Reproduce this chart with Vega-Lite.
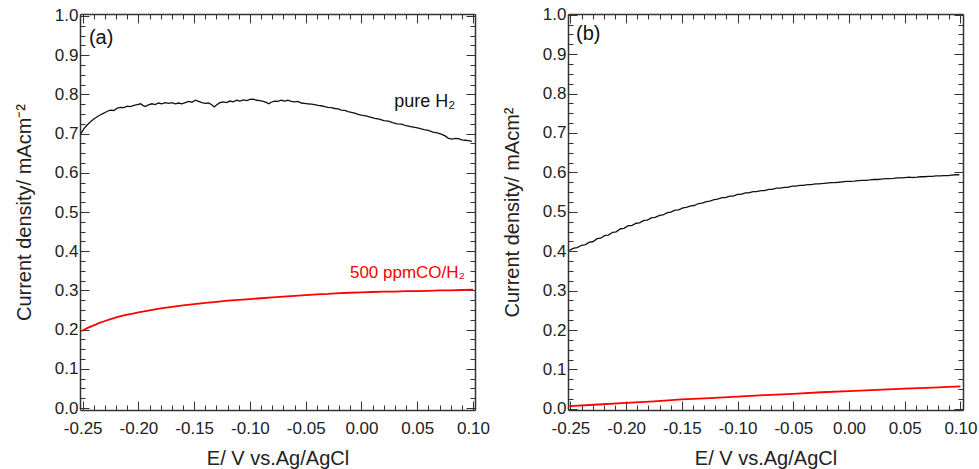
{
"$schema":"https://vega.github.io/schema/vega-lite/v6.json",
"background":"white",
"padding":{"left":14,"top":5,"right":10,"bottom":5},
"spacing":12,
"datasets":{
"ah":[{"E":-0.2515,"j":0.700},{"E":-0.249,"j":0.712},{"E":-0.246,"j":0.722},{"E":-0.243,"j":0.730},{"E":-0.24,"j":0.737},{"E":-0.237,"j":0.743},{"E":-0.234,"j":0.748},{"E":-0.231,"j":0.752},{"E":-0.228,"j":0.757},{"E":-0.225,"j":0.760},{"E":-0.222,"j":0.759},{"E":-0.219,"j":0.765},{"E":-0.216,"j":0.767},{"E":-0.213,"j":0.766},{"E":-0.21,"j":0.770},{"E":-0.207,"j":0.769},{"E":-0.204,"j":0.772},{"E":-0.201,"j":0.774},{"E":-0.198,"j":0.776},{"E":-0.196,"j":0.772},{"E":-0.194,"j":0.769},{"E":-0.191,"j":0.773},{"E":-0.188,"j":0.776},{"E":-0.185,"j":0.774},{"E":-0.182,"j":0.778},{"E":-0.179,"j":0.776},{"E":-0.176,"j":0.779},{"E":-0.173,"j":0.777},{"E":-0.17,"j":0.779},{"E":-0.167,"j":0.776},{"E":-0.164,"j":0.778},{"E":-0.161,"j":0.776},{"E":-0.158,"j":0.779},{"E":-0.155,"j":0.782},{"E":-0.152,"j":0.780},{"E":-0.149,"j":0.785},{"E":-0.146,"j":0.782},{"E":-0.143,"j":0.779},{"E":-0.14,"j":0.777},{"E":-0.137,"j":0.778},{"E":-0.134,"j":0.773},{"E":-0.132,"j":0.768},{"E":-0.13,"j":0.773},{"E":-0.127,"j":0.779},{"E":-0.124,"j":0.781},{"E":-0.121,"j":0.779},{"E":-0.118,"j":0.783},{"E":-0.115,"j":0.781},{"E":-0.112,"j":0.785},{"E":-0.109,"j":0.783},{"E":-0.106,"j":0.786},{"E":-0.103,"j":0.784},{"E":-0.1,"j":0.787},{"E":-0.097,"j":0.788},{"E":-0.094,"j":0.785},{"E":-0.091,"j":0.784},{"E":-0.088,"j":0.782},{"E":-0.085,"j":0.779},{"E":-0.083,"j":0.776},{"E":-0.081,"j":0.780},{"E":-0.078,"j":0.783},{"E":-0.075,"j":0.782},{"E":-0.072,"j":0.785},{"E":-0.069,"j":0.783},{"E":-0.066,"j":0.785},{"E":-0.063,"j":0.782},{"E":-0.06,"j":0.781},{"E":-0.057,"j":0.782},{"E":-0.054,"j":0.778},{"E":-0.051,"j":0.777},{"E":-0.048,"j":0.776},{"E":-0.045,"j":0.775},{"E":-0.042,"j":0.774},{"E":-0.039,"j":0.772},{"E":-0.036,"j":0.771},{"E":-0.033,"j":0.769},{"E":-0.03,"j":0.767},{"E":-0.027,"j":0.766},{"E":-0.024,"j":0.764},{"E":-0.021,"j":0.763},{"E":-0.018,"j":0.760},{"E":-0.015,"j":0.759},{"E":-0.012,"j":0.756},{"E":-0.009,"j":0.754},{"E":-0.006,"j":0.752},{"E":-0.003,"j":0.749},{"E":0.0,"j":0.747},{"E":0.004,"j":0.745},{"E":0.008,"j":0.742},{"E":0.012,"j":0.739},{"E":0.016,"j":0.737},{"E":0.02,"j":0.733},{"E":0.024,"j":0.732},{"E":0.028,"j":0.728},{"E":0.032,"j":0.725},{"E":0.036,"j":0.724},{"E":0.04,"j":0.720},{"E":0.044,"j":0.718},{"E":0.048,"j":0.716},{"E":0.052,"j":0.713},{"E":0.056,"j":0.710},{"E":0.06,"j":0.708},{"E":0.064,"j":0.704},{"E":0.068,"j":0.702},{"E":0.072,"j":0.698},{"E":0.075,"j":0.694},{"E":0.078,"j":0.688},{"E":0.081,"j":0.686},{"E":0.084,"j":0.688},{"E":0.087,"j":0.687},{"E":0.09,"j":0.684},{"E":0.093,"j":0.683},{"E":0.096,"j":0.682},{"E":0.099,"j":0.680}],
"ac":[{"E":-0.2515,"j":0.196},{"E":-0.245,"j":0.205},{"E":-0.24,"j":0.211},{"E":-0.235,"j":0.217},{"E":-0.23,"j":0.222},{"E":-0.225,"j":0.227},{"E":-0.22,"j":0.231},{"E":-0.215,"j":0.235},{"E":-0.21,"j":0.238},{"E":-0.205,"j":0.241},{"E":-0.2,"j":0.244},{"E":-0.19,"j":0.249},{"E":-0.18,"j":0.254},{"E":-0.17,"j":0.258},{"E":-0.16,"j":0.262},{"E":-0.15,"j":0.265},{"E":-0.14,"j":0.268},{"E":-0.13,"j":0.271},{"E":-0.12,"j":0.274},{"E":-0.11,"j":0.276},{"E":-0.1,"j":0.278},{"E":-0.09,"j":0.280},{"E":-0.08,"j":0.282},{"E":-0.07,"j":0.284},{"E":-0.06,"j":0.286},{"E":-0.05,"j":0.288},{"E":-0.04,"j":0.290},{"E":-0.03,"j":0.291},{"E":-0.02,"j":0.293},{"E":-0.01,"j":0.294},{"E":0.0,"j":0.295},{"E":0.01,"j":0.296},{"E":0.02,"j":0.297},{"E":0.03,"j":0.297},{"E":0.04,"j":0.298},{"E":0.05,"j":0.298},{"E":0.06,"j":0.299},{"E":0.07,"j":0.300},{"E":0.08,"j":0.300},{"E":0.09,"j":0.301},{"E":0.1,"j":0.302}],
"bh":[{"E":-0.251,"j":0.402},{"E":-0.247,"j":0.408},{"E":-0.244,"j":0.409},{"E":-0.24,"j":0.415},{"E":-0.237,"j":0.416},{"E":-0.233,"j":0.423},{"E":-0.23,"j":0.424},{"E":-0.226,"j":0.432},{"E":-0.223,"j":0.433},{"E":-0.219,"j":0.440},{"E":-0.216,"j":0.441},{"E":-0.212,"j":0.448},{"E":-0.209,"j":0.449},{"E":-0.205,"j":0.457},{"E":-0.202,"j":0.458},{"E":-0.198,"j":0.465},{"E":-0.195,"j":0.465},{"E":-0.191,"j":0.471},{"E":-0.188,"j":0.472},{"E":-0.184,"j":0.478},{"E":-0.181,"j":0.479},{"E":-0.177,"j":0.485},{"E":-0.174,"j":0.486},{"E":-0.17,"j":0.491},{"E":-0.167,"j":0.492},{"E":-0.163,"j":0.498},{"E":-0.16,"j":0.499},{"E":-0.156,"j":0.504},{"E":-0.153,"j":0.505},{"E":-0.149,"j":0.510},{"E":-0.146,"j":0.511},{"E":-0.142,"j":0.515},{"E":-0.139,"j":0.516},{"E":-0.135,"j":0.521},{"E":-0.132,"j":0.522},{"E":-0.128,"j":0.526},{"E":-0.125,"j":0.527},{"E":-0.121,"j":0.531},{"E":-0.118,"j":0.532},{"E":-0.114,"j":0.536},{"E":-0.111,"j":0.536},{"E":-0.107,"j":0.540},{"E":-0.104,"j":0.540},{"E":-0.1,"j":0.544},{"E":-0.097,"j":0.544},{"E":-0.093,"j":0.548},{"E":-0.09,"j":0.548},{"E":-0.086,"j":0.551},{"E":-0.083,"j":0.551},{"E":-0.079,"j":0.554},{"E":-0.076,"j":0.554},{"E":-0.072,"j":0.557},{"E":-0.069,"j":0.557},{"E":-0.065,"j":0.560},{"E":-0.062,"j":0.560},{"E":-0.058,"j":0.562},{"E":-0.055,"j":0.562},{"E":-0.051,"j":0.565},{"E":-0.048,"j":0.565},{"E":-0.044,"j":0.567},{"E":-0.041,"j":0.567},{"E":-0.037,"j":0.569},{"E":-0.034,"j":0.569},{"E":-0.03,"j":0.571},{"E":-0.027,"j":0.571},{"E":-0.023,"j":0.572},{"E":-0.02,"j":0.573},{"E":-0.016,"j":0.574},{"E":-0.013,"j":0.574},{"E":-0.009,"j":0.575},{"E":-0.006,"j":0.576},{"E":-0.002,"j":0.577},{"E":0.001,"j":0.577},{"E":0.005,"j":0.578},{"E":0.008,"j":0.579},{"E":0.012,"j":0.580},{"E":0.015,"j":0.580},{"E":0.019,"j":0.581},{"E":0.022,"j":0.582},{"E":0.026,"j":0.582},{"E":0.029,"j":0.583},{"E":0.033,"j":0.584},{"E":0.036,"j":0.584},{"E":0.04,"j":0.585},{"E":0.043,"j":0.586},{"E":0.047,"j":0.586},{"E":0.05,"j":0.587},{"E":0.054,"j":0.588},{"E":0.057,"j":0.587},{"E":0.061,"j":0.588},{"E":0.064,"j":0.589},{"E":0.068,"j":0.589},{"E":0.071,"j":0.590},{"E":0.075,"j":0.590},{"E":0.078,"j":0.591},{"E":0.082,"j":0.591},{"E":0.085,"j":0.592},{"E":0.089,"j":0.592},{"E":0.092,"j":0.593},{"E":0.096,"j":0.594},{"E":0.099,"j":0.594}],
"bc":[{"E":-0.251,"j":0.007},{"E":-0.225,"j":0.011},{"E":-0.2,"j":0.015},{"E":-0.175,"j":0.019},{"E":-0.15,"j":0.024},{"E":-0.125,"j":0.027},{"E":-0.1,"j":0.031},{"E":-0.075,"j":0.035},{"E":-0.05,"j":0.038},{"E":-0.025,"j":0.042},{"E":0.0,"j":0.045},{"E":0.025,"j":0.048},{"E":0.05,"j":0.051},{"E":0.075,"j":0.054},{"E":0.1,"j":0.057}]
},
"hconcat":[
{
"width":395,"height":396,
"resolve":{"scale":{"x":"independent","y":"independent"},"axis":{"x":"independent","y":"independent"}},
"layer":[
{"data":{"name":"ah"},"mark":{"type":"line","color":"#111111","strokeWidth":1.3},
 "encoding":{
 "x":{"field":"E","type":"quantitative","scale":{"domain":[-0.2524,0.1018],"nice":false,"zero":false},"axis":{"orient":"bottom","title":"E/ V vs.Ag/AgCl","gridOpacity":0,"tickColor":"#333333","values":[-0.25,-0.24,-0.23,-0.22,-0.21,-0.2,-0.19,-0.18,-0.17,-0.16,-0.15,-0.14,-0.13,-0.12,-0.11,-0.1,-0.09,-0.08,-0.07,-0.06,-0.05,-0.04,-0.03,-0.02,-0.01,0,0.01,0.02,0.03,0.04,0.05,0.06,0.07,0.08,0.09,0.1],"tickSize":{"condition":{"test":"abs(datum.value*20-round(datum.value*20))<0.001","value":-9},"value":-5},"labelExpr":"abs(datum.value*20-round(datum.value*20))<0.001 ? replace(format(datum.value,'.2f'),'−','-') : ''","labelOverlap":false,"labelPadding":19,"titlePadding":8}},
 "y":{"field":"j","type":"quantitative","scale":{"domain":[-0.005,1.005],"nice":false,"zero":false},"axis":{"orient":"left","title":"Current density/ mAcm⁻²","gridOpacity":0,"tickColor":"#333333","values":[0,0.025,0.05,0.075,0.1,0.125,0.15,0.175,0.2,0.225,0.25,0.275,0.3,0.325,0.35,0.375,0.4,0.425,0.45,0.475,0.5,0.525,0.55,0.575,0.6,0.625,0.65,0.675,0.7,0.725,0.75,0.775,0.8,0.825,0.85,0.875,0.9,0.925,0.95,0.975,1],"tickSize":{"condition":{"test":"abs(datum.value*10-round(datum.value*10))<0.001","value":-9},"value":-5},"labelExpr":"abs(datum.value*10-round(datum.value*10))<0.001 ? format(datum.value,'.1f') : ''","labelOverlap":false,"labelPadding":11,"titlePadding":20}}}},
{"data":{"name":"ac"},"mark":{"type":"line","color":"#ff0000","strokeWidth":1.8},
 "encoding":{
 "x":{"field":"E","type":"quantitative","scale":{"domain":[-0.2524,0.1018],"nice":false,"zero":false},"axis":{"orient":"top","title":null,"labels":false,"gridOpacity":0,"tickColor":"#333333","values":[-0.25,-0.24,-0.23,-0.22,-0.21,-0.2,-0.19,-0.18,-0.17,-0.16,-0.15,-0.14,-0.13,-0.12,-0.11,-0.1,-0.09,-0.08,-0.07,-0.06,-0.05,-0.04,-0.03,-0.02,-0.01,0,0.01,0.02,0.03,0.04,0.05,0.06,0.07,0.08,0.09,0.1],"tickSize":{"condition":{"test":"abs(datum.value*20-round(datum.value*20))<0.001","value":-9},"value":-5}}},
 "y":{"field":"j","type":"quantitative","scale":{"domain":[-0.005,1.005],"nice":false,"zero":false},"axis":{"orient":"right","title":null,"labels":false,"gridOpacity":0,"tickColor":"#333333","values":[0,0.025,0.05,0.075,0.1,0.125,0.15,0.175,0.2,0.225,0.25,0.275,0.3,0.325,0.35,0.375,0.4,0.425,0.45,0.475,0.5,0.525,0.55,0.575,0.6,0.625,0.65,0.675,0.7,0.725,0.75,0.775,0.8,0.825,0.85,0.875,0.9,0.925,0.95,0.975,1],"tickSize":{"condition":{"test":"abs(datum.value*10-round(datum.value*10))<0.001","value":-9},"value":-5}}}}},
{"data":{"values":[{"E":-0.2444,"j":0.944,"t":"(a)"}]},"mark":{"type":"text","align":"left","baseline":"middle","fontSize":20,"color":"#111111"},
 "encoding":{"x":{"field":"E","type":"quantitative","scale":{"domain":[-0.2524,0.1018],"nice":false,"zero":false},"axis":null},"y":{"field":"j","type":"quantitative","scale":{"domain":[-0.005,1.005],"nice":false,"zero":false},"axis":null},"text":{"field":"t"}}},
{"data":{"values":[{"E":0.084,"j":0.781,"t":"pure H₂"}]},"mark":{"type":"text","align":"right","baseline":"middle","fontSize":18,"color":"#111111"},
 "encoding":{"x":{"field":"E","type":"quantitative","scale":{"domain":[-0.2524,0.1018],"nice":false,"zero":false},"axis":null},"y":{"field":"j","type":"quantitative","scale":{"domain":[-0.005,1.005],"nice":false,"zero":false},"axis":null},"text":{"field":"t"}}},
{"data":{"values":[{"E":0.093,"j":0.344,"t":"500 ppmCO/H₂"}]},"mark":{"type":"text","align":"right","baseline":"middle","fontSize":17,"color":"#ff0000"},
 "encoding":{"x":{"field":"E","type":"quantitative","scale":{"domain":[-0.2524,0.1018],"nice":false,"zero":false},"axis":null},"y":{"field":"j","type":"quantitative","scale":{"domain":[-0.005,1.005],"nice":false,"zero":false},"axis":null},"text":{"field":"t"}}}
]
},
{
"width":395,"height":396,
"resolve":{"scale":{"x":"independent","y":"independent"},"axis":{"x":"independent","y":"independent"}},
"layer":[
{"data":{"name":"bh"},"mark":{"type":"line","color":"#111111","strokeWidth":1.3},
 "encoding":{
 "x":{"field":"E","type":"quantitative","scale":{"domain":[-0.2522,0.1023],"nice":false,"zero":false},"axis":{"orient":"bottom","title":"E/ V vs.Ag/AgCl","gridOpacity":0,"tickColor":"#333333","values":[-0.25,-0.24,-0.23,-0.22,-0.21,-0.2,-0.19,-0.18,-0.17,-0.16,-0.15,-0.14,-0.13,-0.12,-0.11,-0.1,-0.09,-0.08,-0.07,-0.06,-0.05,-0.04,-0.03,-0.02,-0.01,0,0.01,0.02,0.03,0.04,0.05,0.06,0.07,0.08,0.09,0.1],"tickSize":{"condition":{"test":"abs(datum.value*20-round(datum.value*20))<0.001","value":-9},"value":-5},"labelExpr":"abs(datum.value*20-round(datum.value*20))<0.001 ? replace(format(datum.value,'.2f'),'−','-') : ''","labelOverlap":false,"labelPadding":19,"titlePadding":8}},
 "y":{"field":"j","type":"quantitative","scale":{"domain":[-0.003,1.002],"nice":false,"zero":false},"axis":{"orient":"left","title":"Current density/ mAcm²","gridOpacity":0,"tickColor":"#333333","values":[0,0.025,0.05,0.075,0.1,0.125,0.15,0.175,0.2,0.225,0.25,0.275,0.3,0.325,0.35,0.375,0.4,0.425,0.45,0.475,0.5,0.525,0.55,0.575,0.6,0.625,0.65,0.675,0.7,0.725,0.75,0.775,0.8,0.825,0.85,0.875,0.9,0.925,0.95,0.975,1],"tickSize":{"condition":{"test":"abs(datum.value*10-round(datum.value*10))<0.001","value":-9},"value":-5},"labelExpr":"abs(datum.value*10-round(datum.value*10))<0.001 ? format(datum.value,'.1f') : ''","labelOverlap":false,"labelPadding":11,"titlePadding":20}}}},
{"data":{"name":"bc"},"mark":{"type":"line","color":"#ff0000","strokeWidth":1.8},
 "encoding":{
 "x":{"field":"E","type":"quantitative","scale":{"domain":[-0.2522,0.1023],"nice":false,"zero":false},"axis":{"orient":"top","title":null,"labels":false,"gridOpacity":0,"tickColor":"#333333","values":[-0.25,-0.24,-0.23,-0.22,-0.21,-0.2,-0.19,-0.18,-0.17,-0.16,-0.15,-0.14,-0.13,-0.12,-0.11,-0.1,-0.09,-0.08,-0.07,-0.06,-0.05,-0.04,-0.03,-0.02,-0.01,0,0.01,0.02,0.03,0.04,0.05,0.06,0.07,0.08,0.09,0.1],"tickSize":{"condition":{"test":"abs(datum.value*20-round(datum.value*20))<0.001","value":-9},"value":-5}}},
 "y":{"field":"j","type":"quantitative","scale":{"domain":[-0.003,1.002],"nice":false,"zero":false},"axis":{"orient":"right","title":null,"labels":false,"gridOpacity":0,"tickColor":"#333333","values":[0,0.025,0.05,0.075,0.1,0.125,0.15,0.175,0.2,0.225,0.25,0.275,0.3,0.325,0.35,0.375,0.4,0.425,0.45,0.475,0.5,0.525,0.55,0.575,0.6,0.625,0.65,0.675,0.7,0.725,0.75,0.775,0.8,0.825,0.85,0.875,0.9,0.925,0.95,0.975,1],"tickSize":{"condition":{"test":"abs(datum.value*10-round(datum.value*10))<0.001","value":-9},"value":-5}}}}},
{"data":{"values":[{"E":-0.245,"j":0.95,"t":"(b)"}]},"mark":{"type":"text","align":"left","baseline":"middle","fontSize":20,"color":"#111111"},
 "encoding":{"x":{"field":"E","type":"quantitative","scale":{"domain":[-0.2522,0.1023],"nice":false,"zero":false},"axis":null},"y":{"field":"j","type":"quantitative","scale":{"domain":[-0.003,1.002],"nice":false,"zero":false},"axis":null},"text":{"field":"t"}}}
]
}
],
"config":{
"view":{"stroke":null},
"axis":{"labelFont":"Liberation Sans","labelFontSize":17,"labelColor":"#222222","titleFont":"Liberation Sans","titleFontSize":20,"titleFontWeight":"normal","titleColor":"#222222","domainColor":"#333333","domainWidth":1.5},
"text":{"font":"Liberation Sans"}
}
}
